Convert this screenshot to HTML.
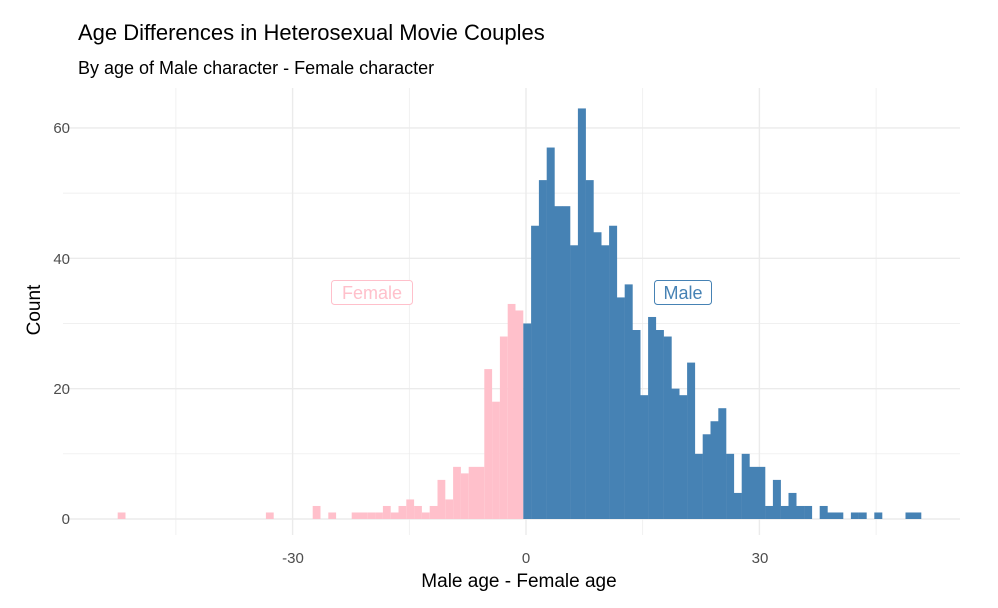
<!DOCTYPE html><html><head><meta charset="utf-8"><style>body{margin:0;background:#fff}svg{display:block;font-family:"Liberation Sans",sans-serif}</style></head><body>
<svg id="s" width="998" height="608" xmlns="http://www.w3.org/2000/svg">
<rect width="998" height="608" fill="#fff"/>
<g id="grid"></g><g id="bars"></g>
<text x="78" y="40" font-size="22" fill="#000">Age Differences in Heterosexual Movie Couples</text>
<text x="78" y="74" font-size="18" fill="#000">By age of Male character - Female character</text>
<g font-size="15" fill="#4d4d4d" text-anchor="end">
<text x="70" y="133">60</text><text x="70" y="264">40</text><text x="70" y="394">20</text><text x="70" y="524">0</text></g>
<g font-size="15" fill="#4d4d4d" text-anchor="middle">
<text x="293" y="563">-30</text><text x="526" y="563">0</text><text x="760" y="563">30</text></g>
<text x="519" y="587" font-size="19" text-anchor="middle">Male age - Female age</text>
<text x="40" y="310" font-size="19" text-anchor="middle" transform="rotate(-90 40 310)">Count</text>
<rect x="331.5" y="280.5" width="81" height="24" rx="3" fill="#fff" stroke="#FFC0CB"/>
<text x="372" y="299" font-size="18" fill="#FFC0CB" text-anchor="middle">Female</text>
<rect x="654.5" y="280.5" width="57" height="24" rx="3" fill="#fff" stroke="#4682B4"/>
<text x="683" y="299" font-size="18" fill="#4682B4" text-anchor="middle">Male</text>
</svg>
<script>
var ns="http://www.w3.org/2000/svg",g=document.getElementById("grid"),b=document.getElementById("bars");
function el(p,t,a){var e=document.createElementNS(ns,t);for(var k in a)e.setAttribute(k,a[k]);p.appendChild(e);}
var X=function(v){return 526+v*7.78},Y=function(c){return 519-c*6.517};
for(var c=-10;c<=70;c+=10){var y=Y(c);if(y<88||y>535)continue;el(g,"line",{x1:63,x2:960,y1:y,y2:y,stroke:"#ebebeb","stroke-width":c%20==0?1.4:0.7});}
for(var v=-45;v<=45;v+=15){var x=X(v);el(g,"line",{x1:x,x2:x,y1:88,y2:535,stroke:"#ebebeb","stroke-width":v%30==0?1.4:0.7});}
var pink={"-1":32,"-2":33,"-3":28,"-4":18,"-5":23,"-6":8,"-7":8,"-8":7,"-9":8,"-10":3,"-11":6,"-12":2,"-13":1,"-14":2,"-15":3,"-16":2,"-17":1,"-18":2,"-19":1,"-20":1,"-21":1,"-22":1,"-25":1,"-27":2,"-33":1,"-52":1};
var blue=[30,45,52,57,48,48,42,63,52,44,42,45,34,36,29,19,31,29,28,20,19,24,10,13,15,17,10,4,10,8,8,2,6,2,4,2,2,0,2,1,1,0,1,1,0,1,0,0,0,1,1];
var e0=523.3,w=7.8;
for(var k in pink){var n=-k;var x=e0-n*w;el(b,"rect",{x:x,y:Y(pink[k]),width:w,height:pink[k]*6.517,fill:"#FFC0CB"});}
blue.forEach(function(h,i){if(!h)return;el(b,"rect",{x:e0+i*w,y:Y(h),width:w+0.2,height:h*6.517,fill:"#4682B4"});});
</script></body></html>
